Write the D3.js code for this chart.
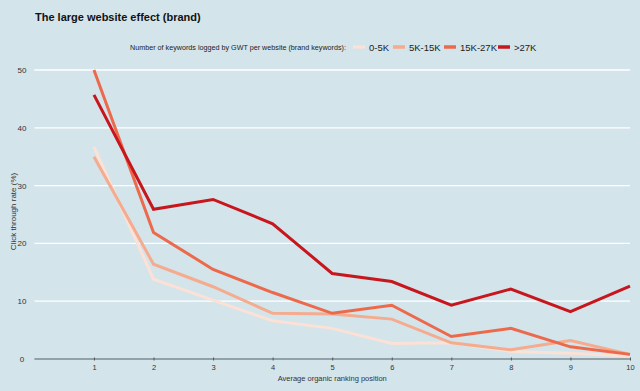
<!DOCTYPE html>
<html><head><meta charset="utf-8">
<script src="https://cdn.jsdelivr.net/npm/d3@7"></script>
<style>
html,body{margin:0;padding:0;background:#d4e4eb;}
svg{display:block;font-family:"Liberation Sans",Arial,sans-serif;}
</style></head>
<body>
<svg id="chart" width="640" height="391"></svg>
<script>
const positions = [1,2,3,4,5,6,7,8,9,10];
const seriesNames = ["0-5K","5K-15K","15K-27K",">27K"];
const s0_5K   = [36.7,13.8,10.2,6.6,5.3,2.7,2.8,1.3,1.0,0.5];
const s5_15K  = [35.0,16.4,12.5,7.9,7.8,6.9,2.8,1.6,3.2,0.8];
const s15_27K = [50.0,21.9,15.5,11.5,7.9,9.3,3.9,5.3,2.1,0.8];
const s27K    = [45.7,25.9,27.6,23.4,14.8,13.4,9.3,12.1,8.2,12.6];
const colors  = ["#fbe1d6","#f5ab8e","#ec6a4b","#c8161d"];
const yTicks  = [0,10,20,30,40,50];

const allSeries = [s0_5K,s5_15K,s15_27K,s27K];
const svg = d3.select("#chart");
svg.append("rect").attr("width",640).attr("height",391).attr("fill","#d4e4eb");

const x = d3.scaleLinear().domain([0,10]).range([34.4,630]);
const y = d3.scaleLinear().domain([0,50]).range([359,70]);

// gridlines
svg.append("g").selectAll("line").data(yTicks.filter(d=>d>0)).join("line")
  .attr("x1",x(0)).attr("x2",x(10)).attr("y1",d=>y(d)).attr("y2",d=>y(d))
  .attr("stroke","#ffffff").attr("stroke-width",1.3);

// y tick labels
svg.append("g").selectAll("text").data(yTicks).join("text")
  .attr("x",22).attr("y",d=>y(d)+3).attr("text-anchor","middle")
  .attr("font-size",8).attr("fill","#333").text(d=>d);

// x axis
const xAxis = d3.axisBottom(x).tickValues(positions).tickSize(3).tickSizeOuter(0);
const gx = svg.append("g").attr("transform",`translate(0,${y(0)})`).call(xAxis);
gx.select(".domain").attr("stroke","#7d8a92").attr("stroke-width",1.5).attr("d",`M${x(0)},0H${x(10)}`);
gx.selectAll(".tick line").attr("stroke","#555").attr("y1",-1.5).attr("y2",1.5);
gx.selectAll(".tick text").attr("font-size",7.5).attr("fill","#333").attr("y",11).attr("dy",0)
  .attr("font-family","Liberation Sans, Arial, sans-serif");

svg.append("text").attr("x",x(5)).attr("y",381).attr("text-anchor","middle")
  .attr("font-size",7.5).attr("fill","#333").text("Average organic ranking position");

svg.append("text").attr("transform",`translate(16,${y(25)-3}) rotate(-90)`)
  .attr("text-anchor","middle").attr("font-size",8).attr("fill","#333").text("Click through rate (%)");

// lines
const line = d3.line().x((d,i)=>x(positions[i])).y(d=>y(d));
allSeries.forEach((s,i)=>{
  svg.append("path").datum(s).attr("d",line).attr("fill","none")
    .attr("stroke",colors[i]).attr("stroke-width",3).attr("stroke-linejoin","miter");
});

// title
svg.append("text").attr("x",35).attr("y",21).attr("font-size",11).attr("font-weight","bold")
  .attr("fill","#111").text("The large website effect (brand)");

// legend
const lg = svg.append("g").attr("transform","translate(0,47)");
lg.append("text").attr("x",346).attr("y",3).attr("text-anchor","end").attr("font-size",7.2)
  .attr("fill","#222").text("Number of keywords logged by GWT per website (brand keywords):");
const legX = [353,393,444,498];
seriesNames.forEach((n,i)=>{
  lg.append("line").attr("x1",legX[i]).attr("x2",legX[i]+12).attr("y1",0).attr("y2",0)
    .attr("stroke",colors[i]).attr("stroke-width",3.5);
  lg.append("text").attr("x",legX[i]+16).attr("y",4).attr("font-size",9.5).attr("fill","#222").text(n);
});
</script>
</body></html>
